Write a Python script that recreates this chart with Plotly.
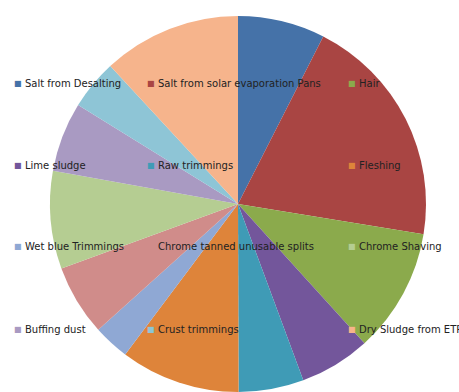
import plotly.graph_objects as go

labels = [
    "Salt from Desalting",
    "Salt from solar evaporation Pans",
    "Hair",
    "Lime sludge",
    "Raw trimmings",
    "Fleshing",
    "Wet blue Trimmings",
    "Chrome tanned unusable splits",
    "Chrome Shaving",
    "Buffing dust",
    "Crust trimmings",
    "Dry Sludge from ETP",
]
values = [7.5, 20.1, 10.7, 6.1, 5.6, 10.3, 3.1, 6.1, 8.4, 6.0, 4.3, 11.9]
colors = [
    "#4572A8", "#A94543", "#8BAA4C", "#73569B", "#3F9BB6", "#DE843A",
    "#8FA8D4", "#D08C8A", "#B5CD92", "#A99AC2", "#8EC5D6", "#F6B48C",
]

W, H = 459, 392
cx, cy, r = 238, 204, 188

fig = go.Figure()
fig.add_trace(go.Pie(
    labels=labels,
    values=values,
    sort=False,
    direction="clockwise",
    rotation=0,
    marker=dict(colors=colors, line=dict(width=0)),
    textinfo="none",
    hoverinfo="label+percent",
    showlegend=False,
    domain=dict(x=[(cx - r) / W, (cx + r) / W], y=[0, 2 * r / H]),
))

# legend laid out as a 3-column grid overlaying the pie
col_marker_x = [17.5, 151, 352]
col_text_x = [23, 155.5, 357]
row_y = [83, 165, 247, 329]
annotations = []
for i, (lab, col) in enumerate(zip(labels, colors)):
    c, rw = i % 3, i // 3
    yy = 1 - row_y[rw] / H
    annotations.append(dict(
        x=col_marker_x[c] / W, y=yy, xref="paper", yref="paper",
        text="■", showarrow=False, xanchor="center", yanchor="middle",
        font=dict(family="DejaVu Sans", size=8, color=col),
    ))
    annotations.append(dict(
        x=col_text_x[c] / W, y=yy, xref="paper", yref="paper",
        text=lab, showarrow=False, xanchor="left", yanchor="middle",
        font=dict(family="DejaVu Sans", size=10, color="#222222"),
    ))

fig.update_layout(
    width=W, height=H,
    margin=dict(l=0, r=0, t=0, b=0),
    paper_bgcolor="white",
    plot_bgcolor="white",
    annotations=annotations,
)

fig.write_html("out.html")
